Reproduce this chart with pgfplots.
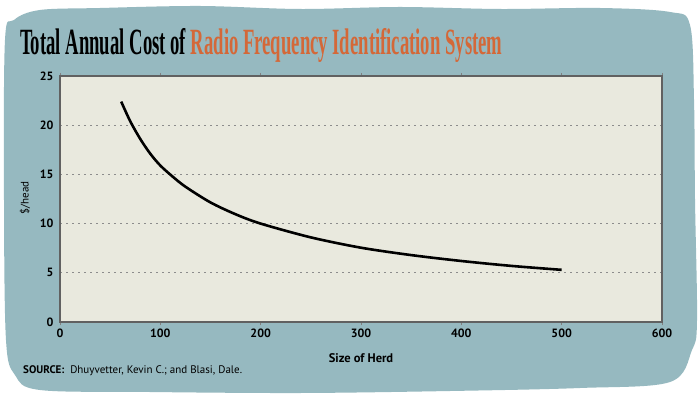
\documentclass[border=0pt]{standalone}
\usepackage{pgfplots}
\pgfplotsset{compat=1.18}
\usepackage{fontspec}
\setmainfont{PT Sans}
\newfontfamily\titlefont[FakeStretch=0.505]{Liberation Serif}
\definecolor{bgteal}{RGB}{150,185,192}
\definecolor{plotbg}{RGB}{233,233,222}
\definecolor{titleorange}{RGB}{212,104,56}
\begin{document}
\begin{tikzpicture}[x=1pt,y=1pt]
\fill[white] (0,0) rectangle (700,399);
\fill[bgteal] plot[smooth cycle, tension=0.55] coordinates {
 (5,359) (14,379) (40,389) (100,391) (200,393) (300,390) (400,392) (500,390) (600,391) (670,387) (690,374)
 (694,299) (695,199) (697,79) (692,49) (670,17)
 (580,11) (450,8) (300,6) (150,7) (40,9) (15,24) (6,59) (4,199) };
\node[anchor=base west, inner sep=0pt] at (20,344) {\titlefont\bfseries\fontsize{37}{37}\selectfont Total Annual Cost of \textcolor{titleorange}{Radio Frequency Identification System}};
\begin{axis}[
  at={(60pt,77pt)}, anchor=south west, scale only axis,
  width=602pt, height=246pt,
  xmin=0, xmax=600, ymin=0, ymax=25,
  xtick={0,100,...,600}, ytick={0,5,...,25},
  axis background/.style={fill=plotbg},
  axis line style={draw=black!62, line width=1.4pt},
  ymajorgrids,
  grid style={dash pattern=on 1.5pt off 4.5pt, black!45, line width=0.9pt},
  ytick style={draw=none},
  xtick style={black!50, line width=0.6pt},
  tick align=outside, major tick length=3pt,
  tick label style={font=\bfseries\fontsize{12}{12}\selectfont},
  /pgf/number format/assume math mode=true,
  xlabel={\bfseries\fontsize{12.5}{12.5}\selectfont Size of Herd},
  xlabel style={at={(axis description cs:0.5,-0.146)}, anchor=center},
  ylabel={\fontsize{11}{11}\selectfont \$/head},
  ylabel style={at={(axis description cs:-0.058,0.504)}, anchor=center},
]
\addplot[black, line width=2.6pt, smooth, tension=0.5] coordinates {
 (61,22.4) (70,20.4) (80,18.6) (90,17.1) (100,15.9) (112,14.8) (125,13.75)
 (150,12.15) (175,10.95) (200,10.0) (250,8.6) (300,7.55) (350,6.8) (400,6.2) (450,5.7) (500,5.3)
};
\end{axis}
\node[anchor=west, inner sep=0pt] at (23,28) {\fontsize{11}{11}\selectfont\textbf{SOURCE:}\ \ Dhuyvetter, Kevin C.; and Blasi, Dale.};
\end{tikzpicture}
\end{document}
